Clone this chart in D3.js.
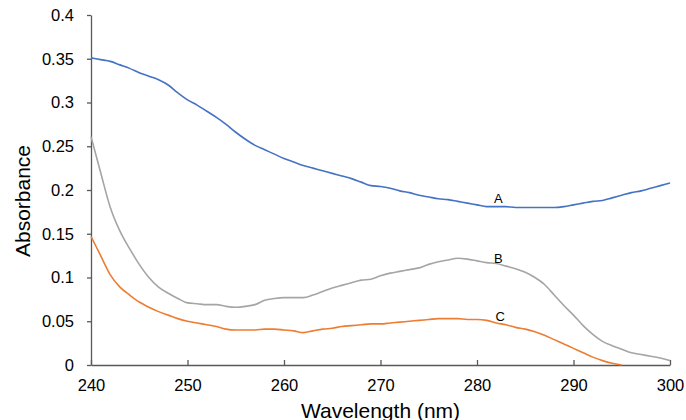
<!DOCTYPE html>
<html><head><meta charset="utf-8">
<script src="https://cdn.jsdelivr.net/npm/d3@7"></script>
<style>body{margin:0;background:#fff}svg{display:block}text{font-family:"Liberation Sans",Arial,sans-serif;fill:#000}</style>
</head><body>
<script>
const wavelength = d3.range(240, 301);
const seriesA = [0.351,0.349,0.347,0.343,0.339,0.334,0.330,0.326,0.320,0.311,0.303,0.297,0.290,0.283,0.275,0.266,0.258,0.251,0.246,0.241,0.236,0.232,0.228,0.225,0.222,0.219,0.216,0.213,0.209,0.205,0.204,0.202,0.199,0.197,0.194,0.192,0.190,0.189,0.187,0.185,0.183,0.181,0.181,0.181,0.180,0.180,0.180,0.180,0.180,0.181,0.183,0.185,0.187,0.188,0.191,0.194,0.197,0.199,0.202,0.205,0.208];
const seriesB = [0.261,0.220,0.180,0.153,0.133,0.115,0.100,0.089,0.082,0.076,0.071,0.070,0.069,0.069,0.067,0.066,0.067,0.069,0.074,0.076,0.077,0.077,0.077,0.080,0.084,0.088,0.091,0.094,0.097,0.098,0.102,0.105,0.107,0.109,0.111,0.115,0.118,0.120,0.122,0.121,0.119,0.117,0.116,0.113,0.110,0.106,0.100,0.092,0.080,0.068,0.057,0.045,0.035,0.027,0.022,0.018,0.014,0.012,0.010,0.008,0.005];
const seriesC = [0.147,0.125,0.103,0.089,0.080,0.072,0.066,0.061,0.057,0.053,0.050,0.048,0.046,0.044,0.041,0.040,0.040,0.040,0.041,0.041,0.040,0.039,0.037,0.039,0.041,0.042,0.044,0.045,0.046,0.047,0.047,0.048,0.049,0.050,0.051,0.052,0.053,0.053,0.053,0.052,0.052,0.051,0.048,0.046,0.043,0.041,0.038,0.034,0.029,0.024,0.019,0.014,0.009,0.005,0.002,0.000,null,null,null,null,null];
const seriesNames = ["A","B","C"];
const seriesColors = ["#4472C4","#A5A5A5","#ED7D31"];
const labelX = [282.2, 282.2, 282.4];
const labelY = [0.185, 0.1166, 0.0503];
const xTicks = [240,250,260,270,280,290,300];
const yTicks = [0,0.05,0.1,0.15,0.2,0.25,0.3,0.35,0.4];

const W = 686, H = 420;
const m = {left: 91, right: 16, top: 15, bottom: 55};
const svg = d3.select("body").append("svg").attr("width", W).attr("height", H);
const x = d3.scaleLinear().domain([240,300]).range([m.left, W - m.right]);
const y = d3.scaleLinear().domain([0,0.4]).range([H - m.bottom, m.top]);
const axisColor = "#595959";

const gx = svg.append("g").attr("transform", `translate(0,${H - m.bottom})`)
  .call(d3.axisBottom(x).tickValues(xTicks).tickSizeInner(-5).tickSizeOuter(0).tickPadding(14).tickFormat(d3.format("d")));
gx.selectAll("text").attr("font-size", "16.5px").attr("font-family", "Liberation Sans, Arial, sans-serif").attr("fill", "#000");
const gy = svg.append("g").attr("transform", `translate(${m.left},0)`)
  .call(d3.axisLeft(y).tickValues(yTicks).tickSizeInner(4).tickSizeOuter(0).tickPadding(13).tickFormat(d => d === 0 ? "0" : String(+d.toFixed(2))));
gy.selectAll("text").attr("font-size", "16.5px").attr("font-family", "Liberation Sans, Arial, sans-serif").attr("fill", "#000");
svg.selectAll(".domain, .tick line").attr("stroke", axisColor).attr("stroke-width", 1.3);

const data = [seriesA, seriesB, seriesC];
const line = d3.line().defined(d => d[1] !== null).x(d => x(d[0])).y(d => y(d[1])).curve(d3.curveMonotoneX);
data.forEach((s, i) => {
  svg.append("path").datum(wavelength.map((w, j) => [w, s[j]]))
    .attr("fill", "none").attr("stroke", seriesColors[i]).attr("stroke-width", 1.6)
    .attr("d", line);
  svg.append("text").attr("x", x(labelX[i])).attr("y", y(labelY[i]))
    .attr("text-anchor", "middle").attr("font-size", "13px").text(seriesNames[i]);
});

svg.append("text").attr("x", (m.left + W - m.right) / 2).attr("y", 418)
  .attr("text-anchor", "middle").attr("font-size", "21px").text("Wavelength (nm)");
svg.append("text").attr("transform", `translate(30,201) rotate(-90)`)
  .attr("text-anchor", "middle").attr("font-size", "21px").text("Absorbance");
</script>
</body></html>
